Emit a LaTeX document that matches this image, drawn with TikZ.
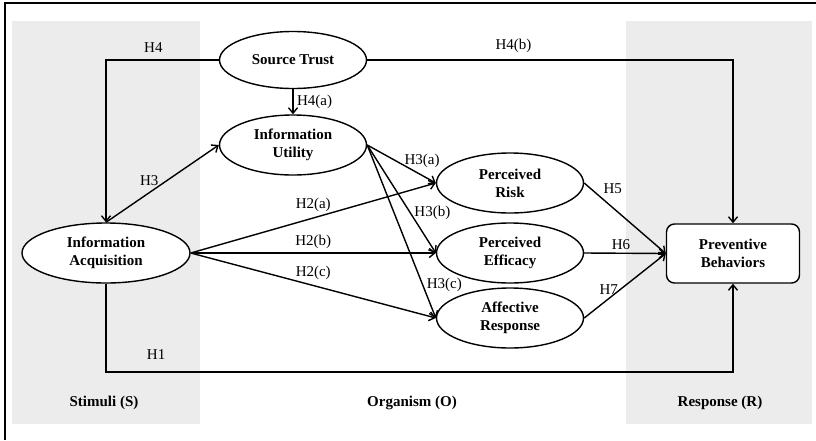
\documentclass[tikz,border=0pt]{standalone}
\usepackage{fontspec}
\setmainfont{Liberation Serif}
\usetikzlibrary{shapes}
\usetikzlibrary{arrows.meta}

\begin{document}
\begin{tikzpicture}[x=1pt,y=-1pt,line width=1.4pt,
  >={Straight Barb[length=5.5pt,width=9pt]},
  font=\fontsize{15}{18}\selectfont,
  panel/.style={fill=gray!15,draw=none},
  construct/.style={ellipse,draw,fill=white,minimum width=147,minimum height=60,
    inner sep=0pt,align=center,font=\fontsize{15}{18}\selectfont\bfseries},
  outcome/.style={rectangle,rounded corners=8pt,draw,fill=white,minimum width=133,
    minimum height=59,inner sep=0pt,align=center,font=\fontsize{15}{18}\selectfont\bfseries},
  stage/.style={font=\fontsize{15}{18}\selectfont\bfseries}]
  \useasboundingbox (0,0) rectangle (816,440);
  % S-O-R panels
  \fill[panel] (12,21) rectangle (200,424);
  \fill[panel] (626,21) rectangle (812,424);
  \draw[line width=1.2pt] (5,440) -- (5,3) -- (816,3);
  \node[stage] (s) at (104,403) {Stimuli (S)};
  \node[stage] (o) at (412,403) {Organism (O)};
  \node[stage] (r) at (720,403) {Response (R)};
  % constructs
  \node[construct,minimum height=57] (st) at (293,60) {Source Trust};
  \node[construct] (iu) at (293,145) {Information\\Utility};
  \node[construct,minimum width=168] (ia) at (106,253) {Information\\Acquisition};
  \node[construct] (pr) at (510,183) {Perceived\\Risk};
  \node[construct] (pe) at (510,253) {Perceived\\Efficacy};
  \node[construct] (ar) at (510,318) {Affective\\Response};
  \node[outcome] (pb) at (733,253.5) {Preventive\\Behaviors};
  \coordinate (h1) at (106,372);
  % paths
  \draw [->] (st.west) -| node [pos=0.29,above=3pt] {H4} (ia.north);
  \draw [->] (st.east) -| node [pos=0.2,above=3pt] {H4(b)} (pb.north);
  \draw [->] (st.south) -- node [right] {H4(a)} (iu.north);
  \draw [->] (ia.north) -- node [pos=0.5,left=0pt,yshift=3pt] {H3} (iu.west);
  \draw [->] (ia.east) -- node [above=2pt] {H2(a)} (pr.west);
  \draw [->] (ia.east) -- node [above] {H2(b)} (pe.west);
  \draw [->] (ia.east) -- node [above=2pt] {H2(c)} (ar.west);
  \draw [->] (iu.east) -- node [pos=0.8,above=4pt] {H3(a)} (pr.west);
  \draw [->] (iu.east) -- node [pos=0.63,right] {H3(b)} (pe.west);
  \draw [->] (iu.east) -- node [pos=0.81,right] {H3(c)} (ar.west);
  \draw [->] (pr.east) -- node [pos=0.2,above right=-1pt] {H5} (pb.west);
  \draw [->] (pe.east) -- node [pos=0.45,above] {H6} (pb.west);
  \draw [->] (ar.east) -- node [pos=0.3,above] {H7} (pb.west);
  \draw [->] (ia.south) -- (h1) -| node [pos=0.04,above=8pt] {H1} (pb.south);
\end{tikzpicture}
\end{document}
